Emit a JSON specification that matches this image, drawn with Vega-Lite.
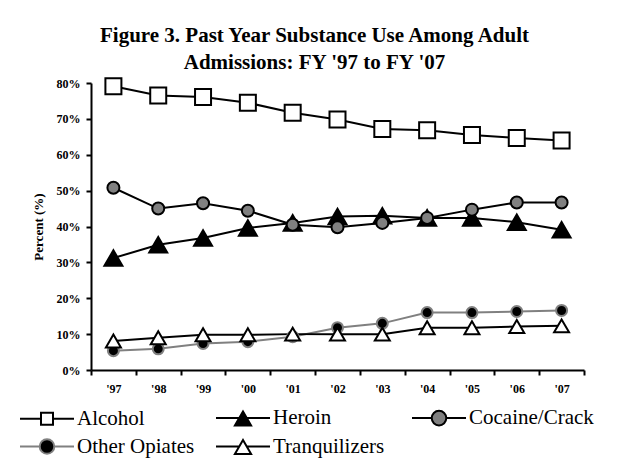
{
  "$schema": "https://vega.github.io/schema/vega-lite/v6.json",
  "width": 493,
  "height": 287,
  "autosize": {"type": "none"},
  "padding": {"left": 91, "top": 83, "right": 41, "bottom": 99},
  "background": "white",
  "config": {
    "view": {"stroke": null},
    "font": "Liberation Serif",
    "axisX": {
      "title": null,
      "labelAngle": 0,
      "tickBand": "extent",
      "tickSize": 5,
      "tickWidth": 2,
      "tickColor": "black",
      "domainColor": "black",
      "domainWidth": 2,
      "labelFont": "Liberation Serif",
      "labelFontWeight": "bold",
      "labelFontSize": 12,
      "labelColor": "black",
      "labelPadding": 8
    },
    "axisY": {
      "grid": false,
      "tickSize": 5,
      "tickWidth": 2,
      "tickColor": "black",
      "domainColor": "black",
      "domainWidth": 2,
      "labelFont": "Liberation Serif",
      "labelFontWeight": "bold",
      "labelFontSize": 12,
      "labelColor": "black",
      "labelPadding": 6,
      "titleFont": "Liberation Serif",
      "titleFontWeight": "bold",
      "titleFontSize": 13,
      "titleColor": "black",
      "titlePadding": 11
    },
    "legend": {
      "orient": "none",
      "legendX": -72,
      "legendY": 324,
      "direction": "horizontal",
      "columns": 3,
      "gridAlign": "all",
      "columnPadding": 10,
      "rowPadding": 5,
      "padding": 0,
      "symbolSize": 182.25,
      "symbolStrokeWidth": 2,
      "symbolOpacity": 1,
      "symbolOffset": 17.5,
      "labelFont": "Liberation Serif",
      "labelFontSize": 21,
      "labelColor": "black",
      "labelOffset": 19.5,
      "labelLimit": 300
    }
  },
  "title": {
    "text": ["Figure 3. Past Year Substance Use Among Adult", "Admissions: FY '97 to FY '07"],
    "font": "Liberation Serif",
    "fontSize": 21,
    "fontWeight": "bold",
    "lineHeight": 27,
    "color": "black",
    "anchor": "middle",
    "dx": -23,
    "offset": 1
  },
  "data": {
    "values": [
      {"year": "'97", "series": "Alcohol", "value": 79.1},
      {"year": "'98", "series": "Alcohol", "value": 76.5},
      {"year": "'99", "series": "Alcohol", "value": 76.1},
      {"year": "'00", "series": "Alcohol", "value": 74.5},
      {"year": "'01", "series": "Alcohol", "value": 71.7},
      {"year": "'02", "series": "Alcohol", "value": 69.8},
      {"year": "'03", "series": "Alcohol", "value": 67.2},
      {"year": "'04", "series": "Alcohol", "value": 66.8},
      {"year": "'05", "series": "Alcohol", "value": 65.5},
      {"year": "'06", "series": "Alcohol", "value": 64.7},
      {"year": "'07", "series": "Alcohol", "value": 64.0},
      {"year": "'97", "series": "Heroin", "value": 31.2},
      {"year": "'98", "series": "Heroin", "value": 34.9},
      {"year": "'99", "series": "Heroin", "value": 36.8},
      {"year": "'00", "series": "Heroin", "value": 39.6},
      {"year": "'01", "series": "Heroin", "value": 41.0},
      {"year": "'02", "series": "Heroin", "value": 42.8},
      {"year": "'03", "series": "Heroin", "value": 43.0},
      {"year": "'04", "series": "Heroin", "value": 42.4},
      {"year": "'05", "series": "Heroin", "value": 42.4},
      {"year": "'06", "series": "Heroin", "value": 41.2},
      {"year": "'07", "series": "Heroin", "value": 39.1},
      {"year": "'97", "series": "Cocaine/Crack", "value": 50.8},
      {"year": "'98", "series": "Cocaine/Crack", "value": 45.0},
      {"year": "'99", "series": "Cocaine/Crack", "value": 46.5},
      {"year": "'00", "series": "Cocaine/Crack", "value": 44.4},
      {"year": "'01", "series": "Cocaine/Crack", "value": 40.5},
      {"year": "'02", "series": "Cocaine/Crack", "value": 39.8},
      {"year": "'03", "series": "Cocaine/Crack", "value": 41.0},
      {"year": "'04", "series": "Cocaine/Crack", "value": 42.4},
      {"year": "'05", "series": "Cocaine/Crack", "value": 44.7},
      {"year": "'06", "series": "Cocaine/Crack", "value": 46.7},
      {"year": "'07", "series": "Cocaine/Crack", "value": 46.7},
      {"year": "'97", "series": "Other Opiates", "value": 5.4},
      {"year": "'98", "series": "Other Opiates", "value": 5.9},
      {"year": "'99", "series": "Other Opiates", "value": 7.4},
      {"year": "'00", "series": "Other Opiates", "value": 7.9},
      {"year": "'01", "series": "Other Opiates", "value": 9.3},
      {"year": "'02", "series": "Other Opiates", "value": 11.8},
      {"year": "'03", "series": "Other Opiates", "value": 13.0},
      {"year": "'04", "series": "Other Opiates", "value": 16.0},
      {"year": "'05", "series": "Other Opiates", "value": 16.0},
      {"year": "'06", "series": "Other Opiates", "value": 16.3},
      {"year": "'07", "series": "Other Opiates", "value": 16.6},
      {"year": "'97", "series": "Tranquilizers", "value": 8.1},
      {"year": "'98", "series": "Tranquilizers", "value": 9.0},
      {"year": "'99", "series": "Tranquilizers", "value": 9.8},
      {"year": "'00", "series": "Tranquilizers", "value": 9.8},
      {"year": "'01", "series": "Tranquilizers", "value": 10.0},
      {"year": "'02", "series": "Tranquilizers", "value": 10.0},
      {"year": "'03", "series": "Tranquilizers", "value": 10.0},
      {"year": "'04", "series": "Tranquilizers", "value": 11.8},
      {"year": "'05", "series": "Tranquilizers", "value": 11.8},
      {"year": "'06", "series": "Tranquilizers", "value": 12.1},
      {"year": "'07", "series": "Tranquilizers", "value": 12.3}
    ]
  },
  "resolve": {
    "scale": {"shape": "independent", "fill": "independent", "stroke": "independent", "size": "independent"}
  },
  "layer": [
    {
      "mark": {"type": "line", "strokeWidth": 2},
      "encoding": {
        "x": {
          "field": "year",
          "type": "ordinal",
          "sort": null,
          "scale": {"type": "band", "paddingInner": 0, "paddingOuter": 0},
          "axis": {"title": null}
        },
        "y": {
          "field": "value",
          "type": "quantitative",
          "scale": {"domain": [0, 80], "nice": false},
          "axis": {
            "title": "Percent (%)",
            "values": [0, 10, 20, 30, 40, 50, 60, 70, 80],
            "labelExpr": "datum.value + '%'"
          }
        },
        "stroke": {
          "field": "series",
          "type": "nominal",
          "scale": {
            "domain": ["Other Opiates", "Alcohol", "Heroin", "Cocaine/Crack", "Tranquilizers"],
            "range": ["#808080", "#000000", "#000000", "#000000", "#000000"]
          },
          "legend": null
        }
      }
    },
    {
      "mark": {"type": "point", "strokeWidth": 2, "opacity": 1},
      "encoding": {
        "x": {
          "field": "year",
          "type": "ordinal",
          "sort": null,
          "scale": {"type": "band", "paddingInner": 0, "paddingOuter": 0},
          "axis": {"title": null}
        },
        "y": {
          "field": "value",
          "type": "quantitative",
          "scale": {"domain": [0, 80], "nice": false},
          "axis": {
            "title": "Percent (%)",
            "values": [0, 10, 20, 30, 40, 50, 60, 70, 80],
            "labelExpr": "datum.value + '%'"
          }
        },
        "stroke": {
          "field": "series",
          "type": "nominal",
          "scale": {
            "domain": ["Other Opiates", "Alcohol", "Heroin", "Cocaine/Crack", "Tranquilizers"],
            "range": ["#808080", "#000000", "#000000", "#000000", "#000000"]
          },
          "legend": null
        },
        "shape": {
          "field": "series",
          "type": "nominal",
          "scale": {
            "domain": ["Heroin", "Alcohol", "Cocaine/Crack", "Other Opiates", "Tranquilizers"],
            "range": ["triangle-up", "square", "circle", "circle", "triangle-up"]
          },
          "legend": null
        },
        "size": {
          "field": "series",
          "type": "nominal",
          "scale": {
            "type": "ordinal",
            "domain": ["Cocaine/Crack", "Alcohol", "Heroin", "Other Opiates", "Tranquilizers"],
            "range": [144, 256, 324, 121, 225]
          },
          "legend": null
        },
        "fill": {
          "field": "series",
          "type": "nominal",
          "scale": {
            "domain": ["Tranquilizers", "Alcohol", "Heroin", "Cocaine/Crack", "Other Opiates"],
            "range": ["#ffffff", "#ffffff", "#000000", "#808080", "#000000"]
          },
          "legend": null
        }
      }
    },
    {
      "transform": [{"filter": "false"}],
      "mark": {"type": "point", "strokeWidth": 2, "opacity": 1},
      "encoding": {
        "shape": {
          "field": "series",
          "type": "nominal",
          "scale": {
            "domain": ["Alcohol", "Heroin", "Cocaine/Crack", "Other Opiates", "Tranquilizers"],
            "range": [
              "M-4,0H-0.889M0.889,0H4M-0.889,-0.889H0.889V0.889H-0.889Z",
              "M-4,0H-0.56M0.56,0H4M0,-0.96L1.2,1.12H-1.2Z",
              "M-4,0H-1.08M1.08,0H4M-1.08,0A1.08,1.08,0,1,0,1.08,0A1.08,1.08,0,1,0,-1.08,0Z",
              "M-4,0H-1.08M1.08,0H4M-1.08,0A1.08,1.08,0,1,0,1.08,0A1.08,1.08,0,1,0,-1.08,0Z",
              "M-4,0H-0.56M0.56,0H4M0,-0.96L1.2,1.12H-1.2Z"
            ]
          },
          "legend": {"title": null}
        },
        "fill": {
          "field": "series",
          "type": "nominal",
          "scale": {
            "domain": ["Alcohol", "Heroin", "Cocaine/Crack", "Other Opiates", "Tranquilizers"],
            "range": ["#ffffff", "#000000", "#808080", "#000000", "#ffffff"]
          },
          "legend": {"title": null}
        },
        "stroke": {
          "field": "series",
          "type": "nominal",
          "scale": {
            "domain": ["Alcohol", "Heroin", "Cocaine/Crack", "Other Opiates", "Tranquilizers"],
            "range": ["#000000", "#000000", "#000000", "#808080", "#000000"]
          },
          "legend": {"title": null}
        }
      }
    }
  ]
}
